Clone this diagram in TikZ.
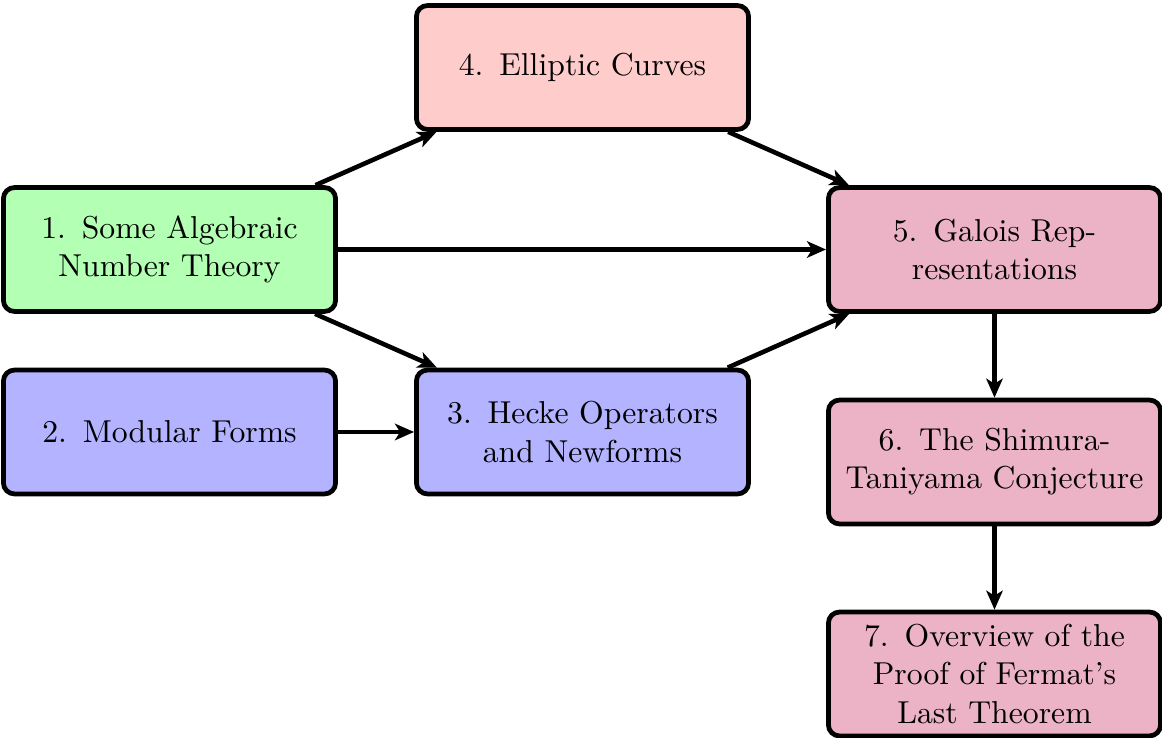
\documentclass[tikz,border=0pt]{standalone}
\usetikzlibrary{arrows.meta}
\begin{document}
\begin{tikzpicture}[x=0.3155pt, y=-0.3155pt,
  box/.style={draw=black, line width=1.5pt, rounded corners=3.5pt,
    text width=99.7pt, align=center, inner sep=2pt,
    minimum width=104.8pt, minimum height=39.1pt, font=\normalsize},
  arr/.style={line width=1.45pt, -{Stealth[length=6pt, width=5.2pt, inset=1.6pt]}}]
\useasboundingbox (0,0) rectangle (1162,738);
\definecolor{cgreen}{RGB}{179,255,179}
\definecolor{cpink}{RGB}{255,204,204}
\definecolor{cblue}{RGB}{179,179,255}
\definecolor{cpurple}{RGB}{236,179,198}
\node[box, fill=cgreen] (n1) at (169.5,249.5) {1. Some Algebraic Number Theory};
\node[box, fill=cblue] (n2) at (169.5,432) {2. Modular Forms};
\node[box, fill=cblue] (n3) at (582.5,432) {3. Hecke Operators and Newforms};
\node[box, fill=cpink] (n4) at (582.5,67.5) {4. Elliptic Curves};
\node[box, fill=cpurple] (n5) at (994.5,249.5) {5. Galois Representations};
\node[box, fill=cpurple] (n6) at (994.5,462) {6. The Shimura-Taniyama Conjecture};
\node[box, fill=cpurple] (n7) at (994.5,674) {7. Overview of the Proof of Fermat's Last Theorem};
\draw[arr] (n1) -- (n4);
\draw[arr] (n1) -- (n5);
\draw[arr] (n1) -- (n3);
\draw[arr] (n2) -- (n3);
\draw[arr] (n4) -- (n5);
\draw[arr] (n3) -- (n5);
\draw[arr] (n5) -- (n6);
\draw[arr] (n6) -- (n7);
\end{tikzpicture}
\end{document}
